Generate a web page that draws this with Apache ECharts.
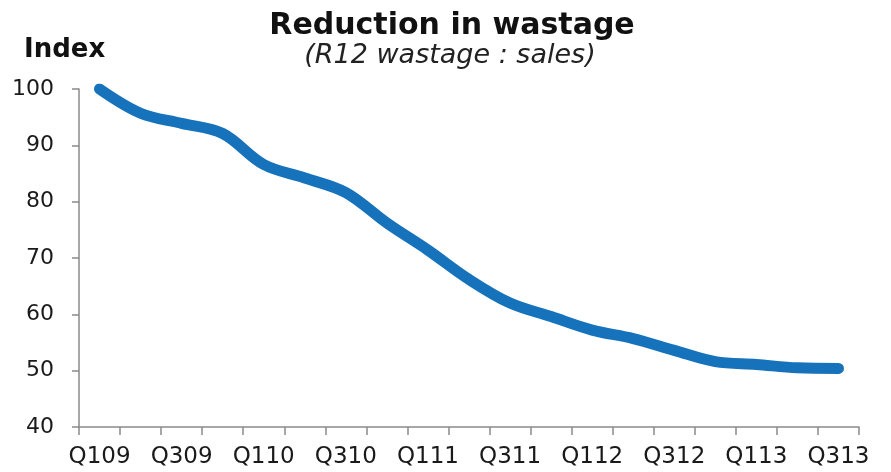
<!DOCTYPE html>
<html>
<head>
<meta charset="utf-8">
<script src="https://cdn.jsdelivr.net/npm/echarts@6/dist/echarts.min.js"></script>
<style>
  html, body { margin: 0; padding: 0; background: #fff; }
  #chart { width: 891px; height: 472px; }
</style>
</head>
<body>
<div id="chart"></div>
<script>
// Quarterly categories, Q1 2009 through Q3 2013
const quarters = ['Q109','Q209','Q309','Q409','Q110','Q210','Q310','Q410','Q111','Q211',
                  'Q311','Q411','Q112','Q212','Q312','Q412','Q113','Q213','Q313'];
// Rolling 12-month wastage : sales, indexed to Q109 = 100
const wastageIndex = [100, 95.7, 93.9, 92.1, 86.6, 84.2, 81.6, 76.2, 71.4, 66.2,
                      62.0, 59.6, 57.2, 55.7, 53.6, 51.6, 51.1, 50.5, 50.4];
const yTicks = { min: 40, max: 100, step: 10 };

const FONT = '"DejaVu Sans", "Liberation Sans", Arial, sans-serif';
const chart = echarts.init(document.getElementById('chart'));

chart.setOption({
  backgroundColor: '#ffffff',
  animation: false,
  title: [
    {
      text: 'Reduction in wastage',
      left: 447, top: 6, textAlign: 'center',
      textStyle: { fontFamily: FONT, fontSize: 30, fontWeight: 'bold', color: '#111' }
    },
    {
      text: '(R12 wastage : sales)',
      left: 445, top: 37, textAlign: 'center',
      textStyle: { fontFamily: FONT, fontSize: 27, fontStyle: 'italic', fontWeight: 'normal', color: '#222' }
    },
    {
      text: 'Index',
      left: 19, top: 32,
      textStyle: { fontFamily: FONT, fontSize: 26, fontWeight: 'bold', color: '#111' }
    }
  ],
  grid: { left: 79, right: 32, top: 89, bottom: 45, containLabel: false },
  xAxis: {
    type: 'category',
    data: quarters,
    boundaryGap: true,
    axisLine: { lineStyle: { color: '#8a8a8a', width: 1.5 } },
    axisTick: { show: true, interval: 0, length: 8, lineStyle: { color: '#8a8a8a', width: 1.5 } },
    axisLabel: {
      interval: 1, margin: 19,
      fontFamily: FONT, fontSize: 23, color: '#1a1a1a'
    },
    splitLine: { show: false }
  },
  yAxis: {
    type: 'value',
    min: yTicks.min, max: yTicks.max, interval: yTicks.step,
    axisLine: { show: true, lineStyle: { color: '#8a8a8a', width: 1.5 } },
    axisTick: { show: true, length: 7, lineStyle: { color: '#8a8a8a', width: 1.5 } },
    axisLabel: { margin: 25, fontFamily: FONT, fontSize: 22, color: '#1a1a1a' },
    splitLine: { show: false }
  },
  series: [{
    type: 'line',
    data: wastageIndex,
    smooth: 0.35,
    showSymbol: false,
    symbol: 'none',
    lineStyle: { color: '#1672ba', width: 11, cap: 'round', join: 'round' }
  }]
});
</script>
</body>
</html>
